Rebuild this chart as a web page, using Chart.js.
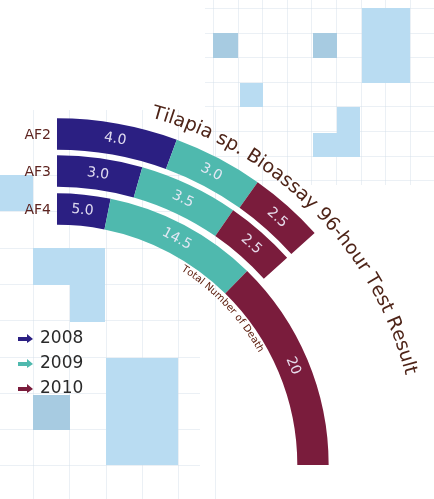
<!DOCTYPE html>
<html><head><meta charset="utf-8">
<script src="https://cdn.jsdelivr.net/npm/chart.js@4"></script>
<style>html,body{margin:0;padding:0;background:#fff;}#wrap{width:434px;height:499px;position:relative;}</style>
</head><body><div id="wrap"><canvas id="c" width="434" height="499"></canvas></div>
<script>
// ---- data ----
const chartTitle = 'Tilapia sp. Bioassay 96-hour Test Result';
const axisTitle = 'Total Number of Death';
const years = ['2008', '2009', '2010'];
const samples = ['AF2', 'AF3', 'AF4'];
const af2Deaths = [4.0, 3.0, 2.5];
const af3Deaths = [3.0, 3.5, 2.5];
const af4Deaths = [5.0, 14.5, 20];

const yearColors = ['#2b1f82', '#4fb9ae', '#7a1c3c'];
const FONT = '"DejaVu Sans", "Liberation Sans", sans-serif';

function fmt(v) { return (Number.isInteger(v) && v >= 10) ? String(v) : v.toFixed(1); }

function arcText(ctx, text, cx, cy, r, midAngle) {
  const total = ctx.measureText(text).width / r;
  let a = midAngle - total / 2;
  for (const ch of text) {
    const w = ctx.measureText(ch).width;
    const ac = a + (w / 2) / r;
    ctx.save();
    ctx.translate(cx + r * Math.cos(ac), cy + r * Math.sin(ac));
    ctx.rotate(ac + Math.PI / 2);
    ctx.fillText(ch, 0, 0);
    ctx.restore();
    a += w / r;
  }
}

const deco = {
  id: 'deco',
  beforeDraw(chart) {
    const ctx = chart.ctx;
    ctx.save();
    ctx.strokeStyle = 'rgba(210,222,232,0.45)';
    ctx.lineWidth = 1;
    // faint grid, top-right
    const s1 = 24.6;
    for (let i = 0; i < 10; i++) {
      const x = Math.round(213 + i * s1) + 0.5;
      ctx.beginPath(); ctx.moveTo(x, 0); ctx.lineTo(x, 185); ctx.stroke();
    }
    for (let j = 0; j < 8; j++) {
      const y = Math.round(8 + j * s1) + 0.5;
      ctx.beginPath(); ctx.moveTo(205, y); ctx.lineTo(434, y); ctx.stroke();
    }
    // faint grid, left
    const s2 = 36.3;
    for (let i = 0; i < 6; i++) {
      const x = Math.round(33 + i * s2) + 0.5;
      ctx.beginPath(); ctx.moveTo(x, 110); ctx.lineTo(x, 499); ctx.stroke();
    }
    for (let j = 0; j < 10; j++) {
      const y = Math.round(175 + j * s2) + 0.5;
      ctx.beginPath(); ctx.moveTo(0, y); ctx.lineTo(200, y); ctx.stroke();
    }
    const light = '#b9dcf2', dark = '#a7cbe1';
    const rects = [
      [213, 33, 25, 25, dark], [313, 33, 24, 25, dark], [362, 8, 48, 75, light],
      [240, 83, 23, 24, light], [337, 107, 23, 50, light], [313, 133, 24, 24, light],
      [0, 175, 33, 36, light], [33, 248, 72, 37, light], [70, 285, 35, 37, light],
      [33, 395, 37, 35, dark], [106, 358, 72, 107, light]
    ];
    for (const [x, y, w, h, c] of rects) { ctx.fillStyle = c; ctx.fillRect(x, y, w, h); }
    ctx.restore();
  },
  afterDatasetsDraw(chart) {
    const ctx = chart.ctx;
    ctx.save();
    let cx = 0, cy = 0, outerR = 0, innerR = 0;
    chart.data.datasets.forEach((ds, di) => {
      if (!ds.data.length) return;
      const meta = chart.getDatasetMeta(di);
      meta.data.forEach((arc, i) => {
        const p = arc.getProps(['x', 'y', 'startAngle', 'endAngle', 'innerRadius', 'outerRadius'], true);
        cx = p.x; cy = p.y;
        const a = (p.startAngle + p.endAngle) / 2;
        const r = (p.innerRadius + p.outerRadius) / 2;
        ctx.save();
        ctx.translate(p.x + r * Math.cos(a), p.y + r * Math.sin(a));
        ctx.rotate(a + Math.PI / 2);
        ctx.fillStyle = 'rgba(240,236,250,0.92)';
        ctx.font = '14px ' + FONT;
        ctx.textAlign = 'center';
        ctx.textBaseline = 'middle';
        ctx.fillText(fmt(ds.data[i]), 0, 0);
        ctx.restore();
        if (i === 0) {
          ctx.fillStyle = '#5e2420';
          ctx.font = '14px ' + FONT;
          ctx.textAlign = 'right';
          ctx.textBaseline = 'middle';
          ctx.fillText(ds.label, p.x - 6, p.y - r + 1);
        }
        if (di === 0) outerR = p.outerRadius;
        innerR = p.innerRadius;
      });
    });
    // curved title
    ctx.fillStyle = '#4e2418';
    ctx.font = '19px ' + FONT;
    ctx.textAlign = 'center';
    ctx.textBaseline = 'alphabetic';
    arcText(ctx, chartTitle, cx, cy, outerR + 13, -Math.PI / 4);
    // curved axis label
    ctx.fillStyle = '#5e2010';
    ctx.font = '10px ' + FONT;
    arcText(ctx, axisTitle, cx, cy, innerR - 9, -Math.PI / 2 + 46.5 * Math.PI / 180);
    // legend
    const ly = [338, 363, 388];
    years.forEach((y, i) => {
      const x0 = 18, yc = ly[i];
      ctx.fillStyle = yearColors[i];
      ctx.beginPath();
      ctx.moveTo(x0, yc - 1); ctx.lineTo(x0 + 9, yc - 1); ctx.lineTo(x0 + 9, yc - 4);
      ctx.lineTo(x0 + 15, yc + 1); ctx.lineTo(x0 + 9, yc + 5); ctx.lineTo(x0 + 9, yc + 3);
      ctx.lineTo(x0, yc + 3); ctx.closePath(); ctx.fill();
      ctx.fillStyle = '#2a2a2a';
      ctx.font = '17px ' + FONT;
      ctx.textAlign = 'left';
      ctx.textBaseline = 'middle';
      ctx.fillText(y, 40, yc + 1);
    });
    ctx.restore();
  }
};

new Chart(document.getElementById('c'), {
  type: 'doughnut',
  data: {
    labels: years,
    datasets: [
      { label: samples[0], data: af2Deaths, backgroundColor: yearColors, weight: 32, circumference: 48 },
      { label: '', data: [], weight: 5 },
      { label: samples[1], data: af3Deaths, backgroundColor: yearColors, weight: 32, circumference: 48 },
      { label: '', data: [], weight: 6 },
      { label: samples[2], data: af4Deaths, backgroundColor: yearColors, weight: 32, circumference: 90 }
    ]
  },
  options: {
    responsive: false,
    animation: false,
    rotation: 0,
    circumference: 90,
    cutout: '69.16%',
    layout: { padding: { left: 57, top: 118, right: 30, bottom: 34 } },
    elements: { arc: { borderWidth: 0, hoverBorderWidth: 0, hoverOffset: 0, offset: 0, borderAlign: 'inner' } },
    plugins: { legend: { display: false }, tooltip: { enabled: false }, title: { display: false } },
    events: []
  },
  plugins: [deco]
});
</script></body></html>
